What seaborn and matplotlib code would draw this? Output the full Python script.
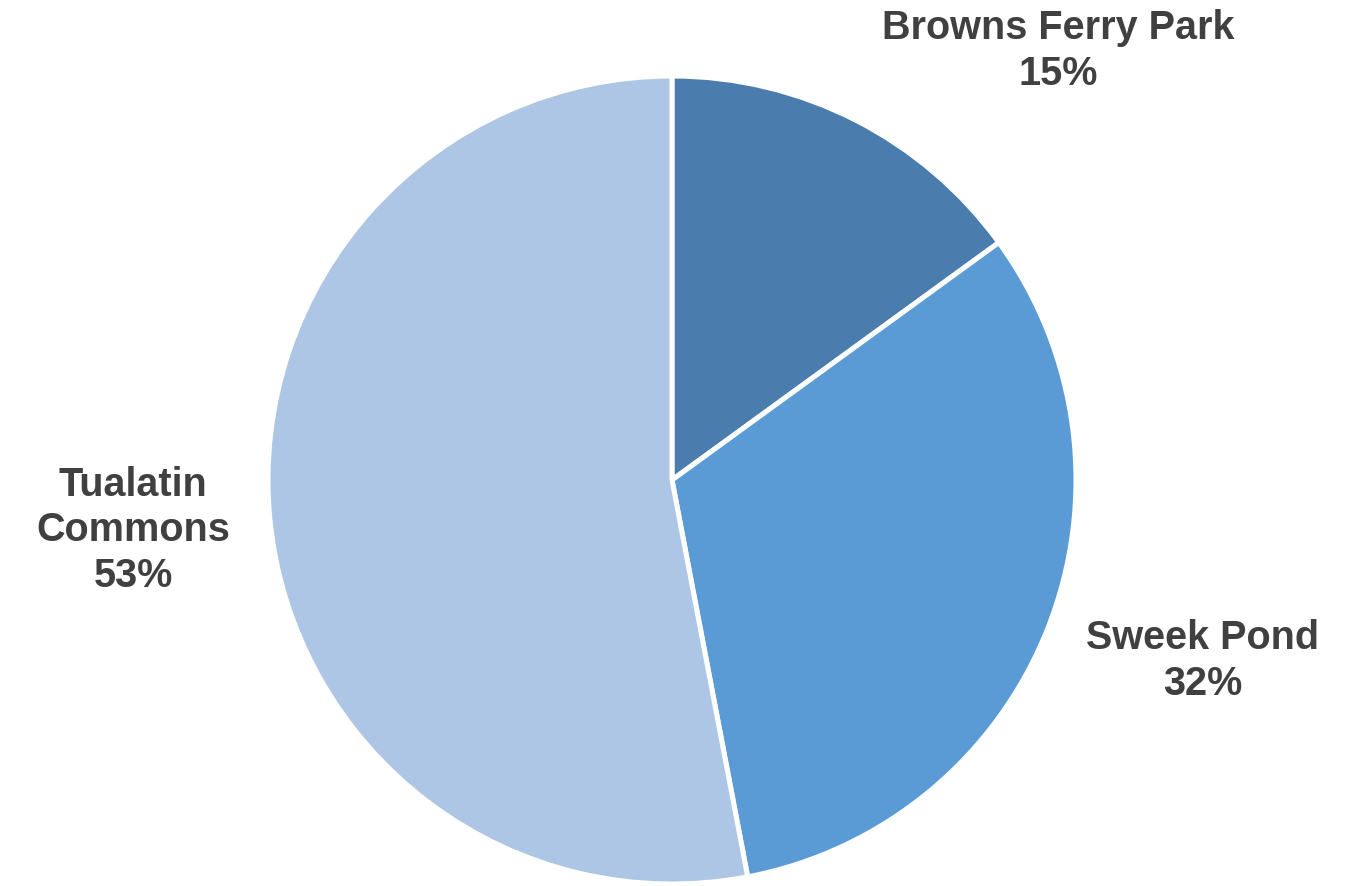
import matplotlib
matplotlib.use("Agg")
import matplotlib.pyplot as plt
import seaborn as sns

categories = ["Browns Ferry Park", "Sweek Pond", "Tualatin Commons"]
label_texts = ["Browns Ferry Park", "Sweek Pond", "Tualatin\nCommons"]
values = [15, 32, 53]
colors = ["#4a7dad", "#5b9bd5", "#adc6e6"]

sns.set_theme(style="white")
plt.rcParams['font.family'] = ['Liberation Sans', 'DejaVu Sans']

W, H = 1353, 886
fig = plt.figure(figsize=(W / 100, H / 100), dpi=100)
cx, cy, r = 672, 480, 404
ax = fig.add_axes([(cx - r) / W, (H - cy - r) / H, 2 * r / W, 2 * r / H])

ax.pie(values, colors=colors, startangle=90, counterclock=False,
       wedgeprops=dict(edgecolor="white", linewidth=3.6), radius=1.0)
ax.set_xlim(-1, 1)
ax.set_ylim(-1, 1)
ax.set_aspect("equal")
ax.axis("off")

# label anchor positions (data units, radius = 1)
label_pos = [(0.955, 1.062), (1.314, -0.448), (-1.334, -0.124)]
for txt, v, (x, y) in zip(label_texts, values, label_pos):
    ax.text(x, y, f"{txt}\n{v}%", ha="center", va="center", fontsize=28.5,
            fontweight="bold", color="#404040", linespacing=1.25, clip_on=False)

fig.savefig("out.png", dpi=100)
